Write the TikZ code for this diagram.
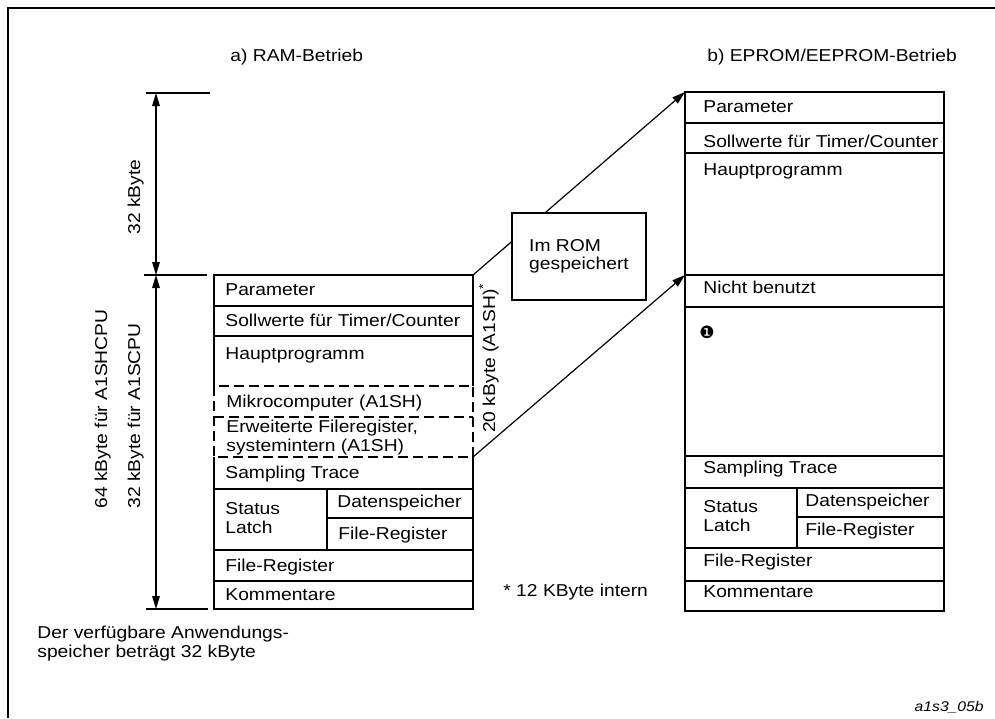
\documentclass[tikz,border=0pt]{standalone}
\usepackage{fontspec}
\setmainfont{Liberation Sans}[FakeStretch=1.12]
\newfontfamily\symfont{DejaVu Sans}
\usetikzlibrary{arrows.meta}
\tikzset{
  >=Triangle,
  font=\fontsize{8.6}{9.2}\selectfont,
  cell/.style={anchor=base west,inner sep=0pt,align=left},
  rot/.style={rotate=90,anchor=base,inner sep=0pt},
  outer/.style={line width=1pt},
  mem/.style={line width=0.7pt},
  memdash/.style={line width=0.8pt,dash pattern=on 5pt off 2.5pt},
  dimline/.style={line width=0.6pt},
  dimarrow/.style={<->,>={Triangle[length=6.5pt,width=3.8pt]},line width=0.6pt},
  flow/.style={->,>={Triangle[length=6.5pt,width=4pt]},line width=0.6pt},
  rombox/.style={draw,line width=0.7pt,fill=white,align=left,
                 minimum width=67pt,minimum height=43.5pt,inner sep=0pt},
}

\begin{document}
\begin{tikzpicture}[x=0.5pt,y=-0.5pt]
  \useasboundingbox (0,0) rectangle (995,718);
  % ---- page frame (top and left edge) ----
  \draw[outer] (995,8) -- (8,8) -- (8,718);

  % ---- titles ----
  \node[cell] (ramtitle) at (230,61) {a) RAM-Betrieb};
  \node[cell] (romtitle) at (707,61) {b) EPROM/EEPROM-Betrieb};

  % ---- dimension lines left ----
  \draw[dimline] (146,93) -- (210,93);
  \draw[dimline] (144,275) -- (207,275);
  \draw[dimline] (146,609) -- (208,609);
  \coordinate (dimtop) at (156,93);
  \coordinate (dimmid) at (156,275);
  \coordinate (dimbot) at (156,609);
  \draw[dimarrow] (dimtop) -- (dimmid);
  \draw[dimarrow] (dimmid) -- (dimbot);
  \node[rot] (upperkb) at (140,197) {32 kByte};
  \node[rot] (shcpu) at (107,409) {64 kByte für A1SHCPU};
  \node[rot] (scpu) at (140,416) {32 kByte für A1SCPU};

  % ---- a) RAM block ----
  \draw[mem] (214,386) -- (214,275) -- (473,275) -- (473,386);
  \draw[mem] (214,306) -- (473,306);
  \draw[mem] (214,336) -- (473,336);
  \draw[memdash] (214,386) rectangle (473,457);
  \draw[memdash] (214,417) -- (473,417);
  \draw[mem] (214,457) -- (214,609) -- (473,609) -- (473,457);
  \draw[mem] (214,489) -- (473,489);
  \draw[mem] (327,518) -- (473,518);
  \draw[mem] (327,489) -- (327,550);
  \draw[mem] (214,550) -- (473,550);
  \draw[mem] (214,581) -- (473,581);

  % two-line cells sit on the baseline of their last line
  \node[cell] (lpar) at (225,295) {Parameter};
  \node[cell] (lsoll) at (225,326) {Sollwerte für Timer/Counter};
  \node[cell] (lhaupt) at (225,359) {Hauptprogramm};
  \node[cell] (lmikro) at (226,407) {Mikrocomputer (A1SH)};
  \node[cell] (lfile) at (226,451) {Erweiterte Fileregister,\\systemintern (A1SH)};
  \node[cell] (ltrace) at (225,478) {Sampling Trace};
  \node[cell] (lstat) at (225,533) {Status\\Latch};
  \node[cell] (ldaten) at (337,507) {Datenspeicher};
  \node[cell] (lreg) at (338,539) {File-Register};
  \node[cell] (lfreg) at (225,571) {File-Register};
  \node[cell] (lkomm) at (225,600) {Kommentare};
  \node[rot] (kb20) at (495,358) {20 kByte (A1SH)\textsuperscript{*}};

  % ---- b) EPROM block ----
  \draw[mem] (685,92) rectangle (944,611);
  \foreach \y in {123,153,275,307,456,488,548,581}{
    \draw[mem] (685,\y) -- (944,\y);
  }
  \draw[mem] (797,517) -- (944,517);
  \draw[mem] (797,488) -- (797,548);

  \node[cell] (rpar) at (703,112) {Parameter};
  \node[cell] (rsoll) at (703,147) {Sollwerte für Timer/Counter};
  \node[cell] (rhaupt) at (703,175) {Hauptprogramm};
  \node[cell] (rfree) at (703,293) {Nicht benutzt};
  \node[inner sep=0pt,font=\symfont\fontsize{8.5}{9}\selectfont] (mark) at (707,332) {❶};
  \node[cell] (rtrace) at (703,473) {Sampling Trace};
  \node[cell] (rstat) at (703,531) {Status\\Latch};
  \node[cell] (rdaten) at (805,506) {Datenspeicher};
  \node[cell] (rreg) at (805,535) {File-Register};
  \node[cell] (rfreg) at (703,566) {File-Register};
  \node[cell] (rkomm) at (703,597) {Kommentare};

  % ---- mapping RAM -> ROM ----
  \coordinate (ramtop) at (473,275);
  \coordinate (ramdash) at (473,457);
  \coordinate (romtop) at (685,92);
  \coordinate (romfree) at (685,275);
  \draw[flow] (ramtop) -- (romtop);
  \node[rombox] (rom) at (579,256.5) {Im ROM\\gespeichert};
  \draw[flow] (ramdash) -- (romfree);

  % ---- notes ----
  \node[cell] (intern) at (503,596) {* 12 KByte intern};
  \node[cell] (avail) at (37,657) {Der verfügbare Anwendungs-\\speicher beträgt 32 kByte};
  \node[anchor=base east,inner sep=0pt,font=\fontsize{7}{8}\selectfont\itshape] (figid) at (984,711) {a1s3\_05b};
\end{tikzpicture}
\end{document}
